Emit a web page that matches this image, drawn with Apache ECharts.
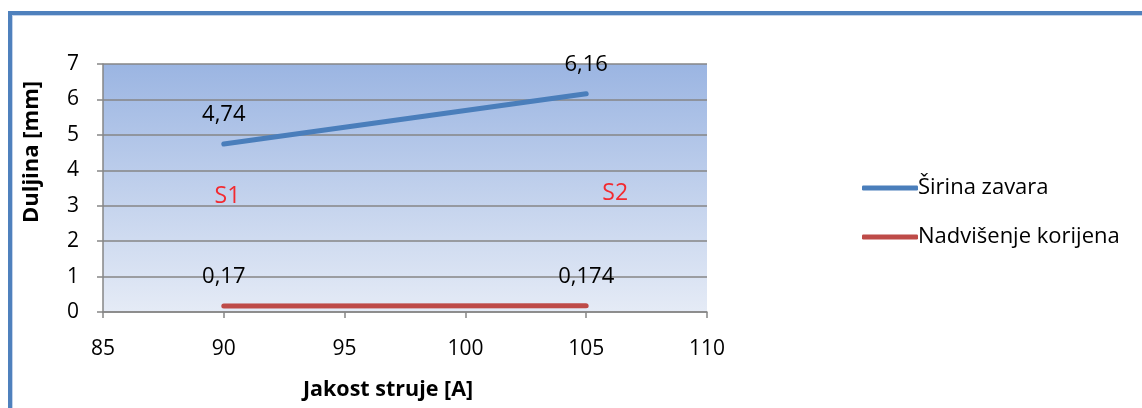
<!DOCTYPE html>
<html>
<head>
<meta charset="utf-8">
<script src="https://cdn.jsdelivr.net/npm/echarts@6/dist/echarts.min.js"></script>
<style>
  html, body { margin: 0; padding: 0; background: #fff; }
  #frame1 { position: absolute; left: 8px; top: 11px; width: 1200px; height: 500px;
            border-left: 4px solid #4f81bd; border-top: 4px solid #4f81bd; }
  #frame2 { position: absolute; left: 12px; top: 15px; width: 1200px; height: 500px;
            border-left: 1px solid #c3d3ea; border-top: 1px solid #c3d3ea; }
  #chart { position: absolute; left: 0; top: 0; width: 1142px; height: 408px; }
</style>
</head>
<body>
<div id="frame1"></div>
<div id="frame2"></div>
<div id="chart"></div>
<script>
const currentA = [90, 105];
const sirinaZavara = [4.74, 6.16];
const nadvisenjeKorijena = [0.17, 0.174];
const seriesNames = ['Širina zavara', 'Nadvišenje korijena'];
const sampleLabels = ['S1', 'S2'];
const samplePos = [[90.15, 3.27], [106.2, 3.36]];
const xTitle = 'Jakost struje [A]';
const yTitle = 'Duljina [mm]';

const font = '"Open Sans", Lato, sans-serif';
const chart = echarts.init(document.getElementById('chart'));
const fmt = v => String(v.value[1]).replace('.', ',');

chart.setOption({
  animation: false,
  textStyle: { fontFamily: font },
  grid: {
    left: 103, right: 435, top: 64, bottom: 96,
    show: true, borderWidth: 0,
    backgroundColor: {
      type: 'linear', x: 0, y: 0, x2: 0, y2: 1,
      colorStops: [{ offset: 0, color: '#9bb5e2' }, { offset: 1, color: '#e5ebf6' }]
    }
  },
  graphic: [{
    type: 'text', x: 32, y: 152, rotation: Math.PI / 2,
    style: { text: yTitle, fontSize: 22, fontWeight: 'bold', fill: '#000', fontFamily: font,
             align: 'center', verticalAlign: 'middle' }
  }],
  xAxis: {
    type: 'value', min: 85, max: 110, interval: 5,
    name: xTitle, nameLocation: 'middle', nameGap: 67,
    nameTextStyle: { fontSize: 21.5, fontWeight: 'bold', color: '#000', fontFamily: font, padding: [0, 34, 0, 0] },
    axisLine: { show: true, lineStyle: { color: '#868686', width: 1.5 } },
    axisTick: { show: true, length: 6, lineStyle: { color: '#868686', width: 1.5 } },
    axisLabel: { fontSize: 21, color: '#000', margin: 27, fontFamily: font },
    splitLine: { show: false }
  },
  yAxis: {
    type: 'value', min: 0, max: 7, interval: 1,
    axisLine: { show: true, lineStyle: { color: '#868686', width: 1.5 } },
    axisTick: { show: true, length: 6, lineStyle: { color: '#868686', width: 1.5 } },
    axisLabel: { fontSize: 21, color: '#000', margin: 24, fontFamily: font },
    splitLine: { show: true, lineStyle: { color: '#868686', width: 1.5 } }
  },
  legend: {
    data: seriesNames,
    orient: 'vertical', left: 857, top: 172,
    itemWidth: 56, itemHeight: 5, itemGap: 27, icon: 'roundRect',
    textStyle: { fontSize: 22, color: '#000', fontFamily: font, padding: [0, 0, 0, -5] }
  },
  series: [
    {
      name: seriesNames[0], type: 'line',
      data: currentA.map((x, i) => [x, sirinaZavara[i]]),
      showSymbol: true, symbol: 'circle', symbolSize: 1,
      lineStyle: { color: '#4a7ebb', width: 5, cap: 'round' },
      itemStyle: { color: '#4a7ebb' },
      label: { show: true, position: 'top', distance: 18, fontSize: 22, color: '#000', formatter: fmt, fontFamily: font },
      z: 3
    },
    {
      name: seriesNames[1], type: 'line',
      data: currentA.map((x, i) => [x, nadvisenjeKorijena[i]]),
      showSymbol: true, symbol: 'circle', symbolSize: 1,
      lineStyle: { color: '#be4b48', width: 5, cap: 'round' },
      itemStyle: { color: '#be4b48' },
      label: { show: true, position: 'top', distance: 18, fontSize: 22, color: '#000', formatter: fmt, fontFamily: font },
      z: 3
    },
    {
      name: 'samples', type: 'scatter',
      data: samplePos.map((p, i) => ({ value: p, name: sampleLabels[i] })),
      symbolSize: 1, itemStyle: { color: 'rgba(0,0,0,0)' },
      label: { show: true, position: 'inside', formatter: p => p.name, fontSize: 23, color: '#ff0000', fontFamily: font },
      silent: true
    }
  ]
});
</script>
</body>
</html>
